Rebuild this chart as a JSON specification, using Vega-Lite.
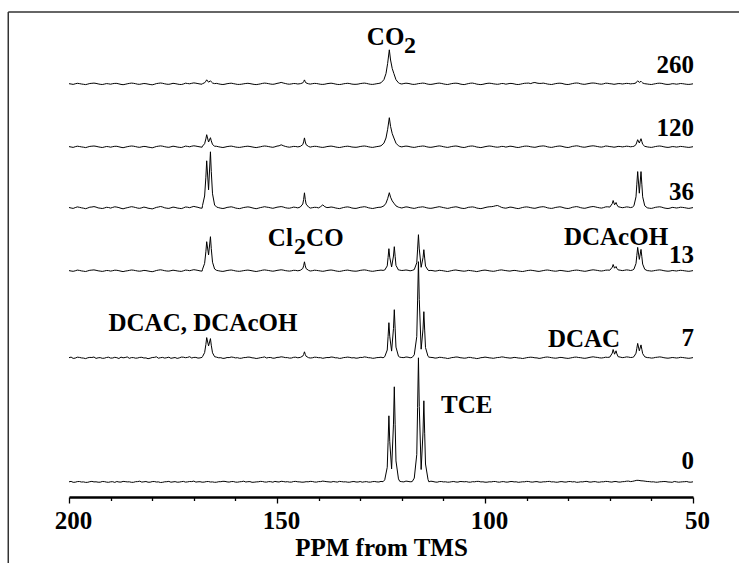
{
"$schema": "https://vega.github.io/schema/vega-lite/v6.json",
"width": 624, "height": 485,
"autosize": {"type": "none"},
"padding": {"left": 69, "top": 12, "right": 46, "bottom": 66},
"background": "white",
"config": {"view": {"stroke": null}, "font": "Liberation Serif"},
"datasets": {
"frame": [{"x1": 214.6, "x2": 20, "y1": 485, "y2": 485}, {"x1": 214.6, "x2": 214.6, "y1": 485, "y2": -100}],
"numbers": [{"label": "260", "x": 50, "y": 424}, {"label": "120", "x": 50, "y": 361}, {"label": "36", "x": 50, "y": 297}, {"label": "13", "x": 50, "y": 234}, {"label": "7", "x": 50, "y": 151}, {"label": "0", "x": 50, "y": 28}],
"centered": [{"label": "DCAC, DCAcOH", "x": 167.8, "y": 166}, {"label": "DCAC", "x": 76.2, "y": 150}, {"label": "DCAcOH", "x": 68.5, "y": 252}, {"label": "TCE", "x": 104.4, "y": 84}],
"leftmain": [{"label": "CO", "x": 128.4, "y": 452}, {"label": "Cl", "x": 152.2, "y": 251}, {"label": "CO", "x": 143.0, "y": 251}],
"subs": [{"label": "2", "x": 119.5, "y": 444}, {"label": "2", "x": 145.9, "y": 243}],
"spectra": [
{"s":"0","x":200,"y":15.2},{"s":"0","x":199,"y":14.7},{"s":"0","x":198,"y":15.4},{"s":"0","x":197,"y":15.0},{"s":"0","x":196,"y":14.6},{"s":"0","x":195,"y":15.3},{"s":"0","x":194,"y":15.1},{"s":"0","x":193,"y":14.8},{"s":"0","x":192,"y":15.5},{"s":"0","x":191,"y":14.9},{"s":"0","x":190,"y":15.2},{"s":"0","x":189,"y":14.6},{"s":"0","x":188,"y":15.0},{"s":"0","x":187,"y":15.6},{"s":"0","x":186,"y":15.1},{"s":"0","x":185,"y":14.7},{"s":"0","x":184,"y":15.3},{"s":"0","x":183,"y":15.8},{"s":"0","x":182,"y":15.2},{"s":"0","x":181,"y":14.8},{"s":"0","x":180,"y":15.4},{"s":"0","x":179,"y":15.0},{"s":"0","x":178,"y":14.5},{"s":"0","x":177,"y":15.2},{"s":"0","x":176,"y":15.6},{"s":"0","x":175,"y":15.1},{"s":"0","x":174,"y":14.8},{"s":"0","x":173,"y":15.3},{"s":"0","x":172,"y":14.9},{"s":"0","x":171,"y":15.5},{"s":"0","x":170,"y":15.9},{"s":"0","x":169,"y":15.2},{"s":"0","x":168,"y":14.8},{"s":"0","x":167,"y":15.4},{"s":"0","x":166,"y":15.0},{"s":"0","x":165,"y":14.7},{"s":"0","x":164,"y":15.3},{"s":"0","x":163,"y":15.7},{"s":"0","x":162,"y":15.1},{"s":"0","x":161,"y":15.4},{"s":"0","x":160,"y":14.9},{"s":"0","x":159,"y":15.2},{"s":"0","x":158,"y":15.8},{"s":"0","x":157,"y":15.3},{"s":"0","x":156,"y":14.7},{"s":"0","x":155,"y":15.1},{"s":"0","x":154,"y":15.6},{"s":"0","x":153,"y":15.0},{"s":"0","x":152,"y":15.4},{"s":"0","x":151,"y":14.8},{"s":"0","x":150,"y":15.2},{"s":"0","x":149,"y":15.7},{"s":"0","x":148,"y":15.1},{"s":"0","x":147,"y":14.9},{"s":"0","x":146,"y":15.5},{"s":"0","x":145,"y":15.2},{"s":"0","x":144,"y":14.8},{"s":"0","x":143,"y":15.3},{"s":"0","x":142,"y":15.6},{"s":"0","x":141,"y":15.0},{"s":"0","x":140,"y":15.4},{"s":"0","x":139,"y":15.9},{"s":"0","x":138,"y":15.3},{"s":"0","x":137,"y":14.9},{"s":"0","x":136,"y":15.2},{"s":"0","x":135,"y":15.6},{"s":"0","x":134,"y":15.1},{"s":"0","x":133,"y":14.8},{"s":"0","x":132,"y":15.3},{"s":"0","x":131,"y":15.0},{"s":"0","x":130,"y":15.5},{"s":"0","x":129,"y":15.2},{"s":"0","x":128,"y":14.9},{"s":"0","x":127,"y":15.4},{"s":"0","x":126,"y":15.1},{"s":"0","x":125,"y":15.6},
{"s":"0","x":124.1,"y":17.2},{"s":"0","x":123.5,"y":29.7},{"s":"0","x":123.3,"y":54.8},{"s":"0","x":123.1,"y":81.2},{"s":"0","x":122.9,"y":55.7},{"s":"0","x":122.45,"y":28.1},{"s":"0","x":122.0,"y":72.9},{"s":"0","x":121.8,"y":110.2},{"s":"0","x":121.6,"y":72.2},{"s":"0","x":121.4,"y":36.1},{"s":"0","x":120.8,"y":18.1},
{"s":"0","x":120,"y":15.3},{"s":"0","x":119,"y":15.9},{"s":"0","x":118,"y":15.2},
{"s":"0","x":117.0,"y":18.9},{"s":"0","x":116.4,"y":42.5},{"s":"0","x":116.2,"y":89.6},{"s":"0","x":116.0,"y":139.2},{"s":"0","x":115.8,"y":90.4},{"s":"0","x":115.35,"y":27.5},{"s":"0","x":114.9,"y":65.0},{"s":"0","x":114.7,"y":96.2},{"s":"0","x":114.5,"y":63.8},{"s":"0","x":114.3,"y":33.0},{"s":"0","x":113.7,"y":17.6},
{"s":"0","x":113,"y":15.8},{"s":"0","x":112,"y":15.0},{"s":"0","x":111,"y":15.4},{"s":"0","x":110,"y":15.1},{"s":"0","x":109,"y":14.8},{"s":"0","x":108,"y":15.3},{"s":"0","x":107,"y":15.0},{"s":"0","x":106,"y":15.5},{"s":"0","x":105,"y":15.2},{"s":"0","x":104,"y":14.9},{"s":"0","x":103,"y":15.3},{"s":"0","x":102,"y":15.6},{"s":"0","x":101,"y":15.1},{"s":"0","x":100,"y":14.8},{"s":"0","x":99,"y":15.2},{"s":"0","x":98,"y":15.5},{"s":"0","x":97,"y":15.0},{"s":"0","x":96,"y":15.3},{"s":"0","x":95,"y":14.9},{"s":"0","x":94,"y":15.4},{"s":"0","x":93,"y":15.1},{"s":"0","x":92,"y":14.7},{"s":"0","x":91,"y":15.2},{"s":"0","x":90,"y":15.6},{"s":"0","x":89,"y":15.0},{"s":"0","x":88,"y":15.3},{"s":"0","x":87,"y":14.9},{"s":"0","x":86,"y":15.2},{"s":"0","x":85,"y":15.5},{"s":"0","x":84,"y":15.1},{"s":"0","x":83,"y":14.8},{"s":"0","x":82,"y":15.3},{"s":"0","x":81,"y":15.0},{"s":"0","x":80,"y":15.4},{"s":"0","x":79,"y":15.1},{"s":"0","x":78,"y":14.7},{"s":"0","x":77,"y":15.2},{"s":"0","x":76,"y":15.5},{"s":"0","x":75,"y":15.0},{"s":"0","x":74,"y":15.3},{"s":"0","x":73,"y":14.9},{"s":"0","x":72,"y":15.2},{"s":"0","x":71,"y":15.6},{"s":"0","x":70,"y":15.1},{"s":"0","x":69,"y":15.4},{"s":"0","x":68,"y":15.0},{"s":"0","x":67,"y":15.3},{"s":"0","x":66,"y":15.8},{"s":"0","x":65,"y":15.4},{"s":"0","x":64,"y":16.2},{"s":"0","x":63,"y":16.6},{"s":"0","x":62,"y":16.1},{"s":"0","x":61,"y":15.5},{"s":"0","x":60,"y":15.1},{"s":"0","x":59,"y":14.8},{"s":"0","x":58,"y":15.2},{"s":"0","x":57,"y":15.5},{"s":"0","x":56,"y":15.0},{"s":"0","x":55,"y":14.7},{"s":"0","x":54,"y":15.2},{"s":"0","x":53,"y":15.0},{"s":"0","x":52,"y":15.3},{"s":"0","x":51,"y":14.9},{"s":"0","x":50,"y":15.2},
{"s":"0","x":199.5,"y":15.6},{"s":"0","x":198.5,"y":14.8},{"s":"0","x":197.5,"y":15.5},{"s":"0","x":196.5,"y":15.1},{"s":"0","x":195.5,"y":14.7},{"s":"0","x":194.5,"y":15.6},{"s":"0","x":193.5,"y":15.2},{"s":"0","x":192.5,"y":14.8},{"s":"0","x":191.5,"y":15.4},{"s":"0","x":190.5,"y":14.7},{"s":"0","x":189.5,"y":15.3},{"s":"0","x":188.5,"y":15.5},{"s":"0","x":187.5,"y":14.9},{"s":"0","x":186.5,"y":15.4},{"s":"0","x":185.5,"y":15.2},{"s":"0","x":184.5,"y":14.7},{"s":"0","x":183.5,"y":15.4},{"s":"0","x":182.5,"y":14.9},{"s":"0","x":181.5,"y":15.5},{"s":"0","x":180.5,"y":14.8},{"s":"0","x":179.5,"y":15.5},{"s":"0","x":178.5,"y":15.1},{"s":"0","x":177.5,"y":14.7},{"s":"0","x":176.5,"y":15.3},{"s":"0","x":175.5,"y":14.8},{"s":"0","x":174.5,"y":15.4},{"s":"0","x":173.5,"y":14.9},{"s":"0","x":172.5,"y":15.6},{"s":"0","x":171.5,"y":15.1},{"s":"0","x":170.5,"y":15.4},{"s":"0","x":169.5,"y":14.9},{"s":"0","x":168.5,"y":15.3},{"s":"0","x":167.5,"y":14.9},{"s":"0","x":166.5,"y":15.5},{"s":"0","x":165.5,"y":15.1},{"s":"0","x":164.5,"y":14.8},{"s":"0","x":163.5,"y":15.3},{"s":"0","x":162.5,"y":15.6},{"s":"0","x":161.5,"y":14.9},{"s":"0","x":160.5,"y":15.5},{"s":"0","x":159.5,"y":14.8},{"s":"0","x":158.5,"y":15.4},{"s":"0","x":157.5,"y":15.0},{"s":"0","x":156.5,"y":15.4},{"s":"0","x":155.5,"y":14.8},{"s":"0","x":154.5,"y":15.2},{"s":"0","x":153.5,"y":15.5},{"s":"0","x":152.5,"y":14.9},{"s":"0","x":151.5,"y":15.3},{"s":"0","x":150.5,"y":15.6},{"s":"0","x":149.5,"y":15.0},{"s":"0","x":148.5,"y":15.5},{"s":"0","x":147.5,"y":15.3},{"s":"0","x":146.5,"y":14.9},{"s":"0","x":145.5,"y":15.6},{"s":"0","x":144.5,"y":15.1},{"s":"0","x":143.5,"y":14.9},{"s":"0","x":142.5,"y":15.2},{"s":"0","x":141.5,"y":15.5},{"s":"0","x":140.5,"y":14.9},{"s":"0","x":139.5,"y":15.4},{"s":"0","x":138.5,"y":15.6},{"s":"0","x":137.5,"y":15.1},{"s":"0","x":136.5,"y":15.5},{"s":"0","x":135.5,"y":14.9},{"s":"0","x":134.5,"y":15.4},{"s":"0","x":133.5,"y":15.2},{"s":"0","x":132.5,"y":14.8},{"s":"0","x":131.5,"y":15.5},{"s":"0","x":130.5,"y":15.0},{"s":"0","x":129.5,"y":14.8},{"s":"0","x":128.5,"y":15.4},{"s":"0","x":127.5,"y":14.9},{"s":"0","x":126.5,"y":15.5},{"s":"0","x":125.5,"y":15.0},{"s":"0","x":124.5,"y":15.3},{"s":"0","x":120.5,"y":15.7},{"s":"0","x":119.5,"y":15.1},{"s":"0","x":118.5,"y":15.6},{"s":"0","x":117.5,"y":15.4},{"s":"0","x":113.5,"y":15.2},{"s":"0","x":112.5,"y":15.5},{"s":"0","x":111.5,"y":14.8},{"s":"0","x":110.5,"y":15.5},{"s":"0","x":109.5,"y":15.2},{"s":"0","x":108.5,"y":14.9},{"s":"0","x":107.5,"y":15.5},{"s":"0","x":106.5,"y":14.9},{"s":"0","x":105.5,"y":15.4},{"s":"0","x":104.5,"y":15.4},{"s":"0","x":103.5,"y":14.8},{"s":"0","x":102.5,"y":15.2},{"s":"0","x":101.5,"y":15.6},{"s":"0","x":100.5,"y":15.2},{"s":"0","x":99.5,"y":14.8},{"s":"0","x":98.5,"y":15.1},{"s":"0","x":97.5,"y":15.5},{"s":"0","x":96.5,"y":14.8},{"s":"0","x":95.5,"y":15.4},{"s":"0","x":94.5,"y":14.9},{"s":"0","x":93.5,"y":15.5},{"s":"0","x":92.5,"y":15.2},{"s":"0","x":91.5,"y":14.9},{"s":"0","x":90.5,"y":15.2},{"s":"0","x":89.5,"y":15.5},{"s":"0","x":88.5,"y":14.9},{"s":"0","x":87.5,"y":15.4},{"s":"0","x":86.5,"y":14.8},{"s":"0","x":85.5,"y":15.2},{"s":"0","x":84.5,"y":15.6},{"s":"0","x":83.5,"y":15.2},{"s":"0","x":82.5,"y":14.8},{"s":"0","x":81.5,"y":15.4},{"s":"0","x":80.5,"y":14.9},{"s":"0","x":79.5,"y":15.5},{"s":"0","x":78.5,"y":15.3},{"s":"0","x":77.5,"y":14.8},{"s":"0","x":76.5,"y":15.1},{"s":"0","x":75.5,"y":15.6},{"s":"0","x":74.5,"y":14.9},{"s":"0","x":73.5,"y":15.4},{"s":"0","x":72.5,"y":14.8},{"s":"0","x":71.5,"y":15.2},{"s":"0","x":70.5,"y":15.5},{"s":"0","x":69.5,"y":14.9},{"s":"0","x":68.5,"y":15.5},{"s":"0","x":67.5,"y":14.9},{"s":"0","x":66.5,"y":15.4},{"s":"0","x":65.5,"y":15.9},{"s":"0","x":64.5,"y":15.7},{"s":"0","x":63.5,"y":16.7},{"s":"0","x":62.5,"y":16.2},{"s":"0","x":61.5,"y":15.8},{"s":"0","x":60.5,"y":15.4},{"s":"0","x":59.5,"y":15.2},{"s":"0","x":58.5,"y":14.8},{"s":"0","x":57.5,"y":15.3},{"s":"0","x":56.5,"y":15.4},{"s":"0","x":55.5,"y":14.9},{"s":"0","x":54.5,"y":15.5},{"s":"0","x":53.5,"y":14.8},{"s":"0","x":52.5,"y":15.2},{"s":"0","x":51.5,"y":15.5},{"s":"0","x":50.5,"y":14.8},

{"s":"7","x":200,"y":139.3},{"s":"7","x":199,"y":138.6},{"s":"7","x":198,"y":139.8},{"s":"7","x":197,"y":139.1},{"s":"7","x":196,"y":138.4},{"s":"7","x":195,"y":139.6},{"s":"7","x":194,"y":140.0},{"s":"7","x":193,"y":139.2},{"s":"7","x":192,"y":138.7},{"s":"7","x":191,"y":139.5},{"s":"7","x":190,"y":138.9},{"s":"7","x":189,"y":139.7},{"s":"7","x":188,"y":138.5},{"s":"7","x":187,"y":139.2},{"s":"7","x":186,"y":140.1},{"s":"7","x":185,"y":139.4},{"s":"7","x":184,"y":138.8},{"s":"7","x":183,"y":139.6},{"s":"7","x":182,"y":139.0},{"s":"7","x":181,"y":138.3},{"s":"7","x":180,"y":139.5},{"s":"7","x":179,"y":140.2},{"s":"7","x":178,"y":139.3},{"s":"7","x":177,"y":138.9},{"s":"7","x":176,"y":139.8},{"s":"7","x":175,"y":139.1},{"s":"7","x":174,"y":138.6},{"s":"7","x":173,"y":139.9},{"s":"7","x":172,"y":139.3},{"s":"7","x":171,"y":140.3},{"s":"7","x":170,"y":139.6},{"s":"7","x":169,"y":138.9},{"s":"7","x":168,"y":139.7},
{"s":"7","x":167.9,"y":140.4},{"s":"7","x":167.4,"y":144.4},{"s":"7","x":167.1,"y":152.4},{"s":"7","x":166.9,"y":159.4},{"s":"7","x":166.45,"y":151.1},{"s":"7","x":166.0,"y":158.4},{"s":"7","x":165.8,"y":151.8},{"s":"7","x":165.5,"y":144.2},{"s":"7","x":165.0,"y":140.3},
{"s":"7","x":164,"y":139.2},{"s":"7","x":163,"y":138.6},{"s":"7","x":162,"y":139.5},{"s":"7","x":161,"y":140.0},{"s":"7","x":160,"y":139.1},{"s":"7","x":159,"y":138.7},{"s":"7","x":158,"y":139.4},{"s":"7","x":157,"y":139.9},{"s":"7","x":156,"y":139.2},{"s":"7","x":155,"y":138.5},{"s":"7","x":154,"y":139.3},{"s":"7","x":153,"y":140.1},{"s":"7","x":152,"y":139.5},{"s":"7","x":151,"y":138.8},{"s":"7","x":150,"y":139.6},{"s":"7","x":149,"y":140.2},{"s":"7","x":148,"y":139.4},{"s":"7","x":147,"y":138.9},{"s":"7","x":146,"y":139.7},{"s":"7","x":145,"y":139.2},
{"s":"7","x":144.4,"y":139.6},{"s":"7","x":143.8,"y":140.9},{"s":"7","x":143.6,"y":142.5},{"s":"7","x":143.4,"y":145.2},{"s":"7","x":143.2,"y":142.6},{"s":"7","x":143.0,"y":140.7},{"s":"7","x":142.4,"y":139.3},
{"s":"7","x":142,"y":139.0},{"s":"7","x":141,"y":139.8},{"s":"7","x":140,"y":139.3},{"s":"7","x":139,"y":138.7},{"s":"7","x":138,"y":139.5},{"s":"7","x":137,"y":140.0},{"s":"7","x":136,"y":139.2},{"s":"7","x":135,"y":138.6},{"s":"7","x":134,"y":139.4},{"s":"7","x":133,"y":139.9},{"s":"7","x":132,"y":139.1},{"s":"7","x":131,"y":138.8},{"s":"7","x":130,"y":139.6},{"s":"7","x":129,"y":140.1},{"s":"7","x":128,"y":139.3},{"s":"7","x":127,"y":138.7},{"s":"7","x":126,"y":139.4},{"s":"7","x":125,"y":139.8},
{"s":"7","x":124.1,"y":140.3},{"s":"7","x":123.5,"y":147.0},{"s":"7","x":123.3,"y":160.3},{"s":"7","x":123.1,"y":174.3},{"s":"7","x":122.9,"y":160.8},{"s":"7","x":122.45,"y":145.9},{"s":"7","x":122.0,"y":168.4},{"s":"7","x":121.8,"y":187.3},{"s":"7","x":121.6,"y":168.1},{"s":"7","x":121.4,"y":149.9},{"s":"7","x":120.8,"y":140.7},
{"s":"7","x":120,"y":139.5},{"s":"7","x":119,"y":140.0},{"s":"7","x":118,"y":139.2},
{"s":"7","x":117.0,"y":142.2},{"s":"7","x":116.4,"y":160.4},{"s":"7","x":116.2,"y":196.9},{"s":"7","x":116.0,"y":235.3},{"s":"7","x":115.8,"y":197.4},{"s":"7","x":115.35,"y":147.8},{"s":"7","x":114.9,"y":167.9},{"s":"7","x":114.7,"y":185.3},{"s":"7","x":114.5,"y":166.9},{"s":"7","x":114.3,"y":149.4},{"s":"7","x":113.7,"y":140.7},
{"s":"7","x":113,"y":139.6},{"s":"7","x":112,"y":138.9},{"s":"7","x":111,"y":139.7},{"s":"7","x":110,"y":139.2},{"s":"7","x":109,"y":138.5},{"s":"7","x":108,"y":139.4},{"s":"7","x":107,"y":140.0},{"s":"7","x":106,"y":139.3},{"s":"7","x":105,"y":138.8},{"s":"7","x":104,"y":139.6},{"s":"7","x":103,"y":139.1},{"s":"7","x":102,"y":138.4},{"s":"7","x":101,"y":139.3},{"s":"7","x":100,"y":139.9},{"s":"7","x":99,"y":139.2},{"s":"7","x":98,"y":138.7},{"s":"7","x":97,"y":139.5},{"s":"7","x":96,"y":140.1},{"s":"7","x":95,"y":139.4},{"s":"7","x":94,"y":138.9},{"s":"7","x":93,"y":139.6},{"s":"7","x":92,"y":139.0},{"s":"7","x":91,"y":138.5},{"s":"7","x":90,"y":139.3},{"s":"7","x":89,"y":139.8},{"s":"7","x":88,"y":139.2},{"s":"7","x":87,"y":138.6},{"s":"7","x":86,"y":139.4},{"s":"7","x":85,"y":140.0},{"s":"7","x":84,"y":139.3},{"s":"7","x":83,"y":138.8},{"s":"7","x":82,"y":139.6},{"s":"7","x":81,"y":139.1},{"s":"7","x":80,"y":138.6},{"s":"7","x":79,"y":139.4},{"s":"7","x":78,"y":139.9},{"s":"7","x":77,"y":139.3},{"s":"7","x":76,"y":138.7},{"s":"7","x":75,"y":139.5},{"s":"7","x":74,"y":140.2},{"s":"7","x":73,"y":139.6},{"s":"7","x":72,"y":139.0},{"s":"7","x":71,"y":139.8},
{"s":"7","x":70.0,"y":139.9},{"s":"7","x":69.4,"y":143.9},{"s":"7","x":69.2,"y":147.5},{"s":"7","x":68.85,"y":142.8},{"s":"7","x":68.5,"y":146.2},{"s":"7","x":68.3,"y":143.2},{"s":"7","x":68.0,"y":140.3},
{"s":"7","x":67,"y":139.4},{"s":"7","x":66,"y":140.1},{"s":"7","x":65,"y":139.5},
{"s":"7","x":64.2,"y":140.3},{"s":"7","x":63.7,"y":143.8},{"s":"7","x":63.5,"y":148.7},{"s":"7","x":63.3,"y":153.6},{"s":"7","x":62.9,"y":146.2},{"s":"7","x":62.5,"y":152.1},{"s":"7","x":62.3,"y":147.7},{"s":"7","x":62.1,"y":143.4},{"s":"7","x":61.6,"y":140.2},
{"s":"7","x":61,"y":139.4},{"s":"7","x":60,"y":138.9},{"s":"7","x":59,"y":139.6},{"s":"7","x":58,"y":140.1},{"s":"7","x":57,"y":139.3},{"s":"7","x":56,"y":138.8},{"s":"7","x":55,"y":139.5},{"s":"7","x":54,"y":139.0},{"s":"7","x":53,"y":139.7},{"s":"7","x":52,"y":139.2},{"s":"7","x":51,"y":138.7},{"s":"7","x":50,"y":139.4},
{"s":"7","x":199.5,"y":139.9},{"s":"7","x":198.5,"y":138.9},{"s":"7","x":197.5,"y":139.6},{"s":"7","x":196.5,"y":138.9},{"s":"7","x":195.5,"y":139.2},{"s":"7","x":194.5,"y":139.5},{"s":"7","x":193.5,"y":138.6},{"s":"7","x":192.5,"y":139.4},{"s":"7","x":191.5,"y":138.8},{"s":"7","x":190.5,"y":139.8},{"s":"7","x":189.5,"y":139.0},{"s":"7","x":188.5,"y":139.3},{"s":"7","x":187.5,"y":139.9},{"s":"7","x":186.5,"y":139.5},{"s":"7","x":185.5,"y":138.7},{"s":"7","x":184.5,"y":139.4},{"s":"7","x":183.5,"y":139.0},{"s":"7","x":182.5,"y":139.7},{"s":"7","x":181.5,"y":139.1},{"s":"7","x":180.5,"y":138.8},{"s":"7","x":179.5,"y":139.6},{"s":"7","x":178.5,"y":138.8},{"s":"7","x":177.5,"y":139.6},{"s":"7","x":176.5,"y":139.3},{"s":"7","x":175.5,"y":138.7},{"s":"7","x":174.5,"y":139.5},{"s":"7","x":173.5,"y":139.1},{"s":"7","x":172.5,"y":139.8},{"s":"7","x":171.5,"y":139.6},{"s":"7","x":170.5,"y":139.0},{"s":"7","x":169.5,"y":139.6},{"s":"7","x":168.5,"y":139.1},{"s":"7","x":164.5,"y":139.8},{"s":"7","x":163.5,"y":139.3},{"s":"7","x":162.5,"y":138.8},{"s":"7","x":161.5,"y":139.4},{"s":"7","x":160.5,"y":139.7},{"s":"7","x":159.5,"y":139.3},{"s":"7","x":158.5,"y":138.8},{"s":"7","x":157.5,"y":139.5},{"s":"7","x":156.5,"y":139.8},{"s":"7","x":155.5,"y":139.0},{"s":"7","x":154.5,"y":138.8},{"s":"7","x":153.5,"y":139.6},{"s":"7","x":152.5,"y":139.0},{"s":"7","x":151.5,"y":139.5},{"s":"7","x":150.5,"y":138.9},{"s":"7","x":149.5,"y":139.7},{"s":"7","x":148.5,"y":139.9},{"s":"7","x":147.5,"y":139.4},{"s":"7","x":146.5,"y":139.0},{"s":"7","x":145.5,"y":139.8},{"s":"7","x":141.5,"y":139.2},{"s":"7","x":140.5,"y":139.7},{"s":"7","x":139.5,"y":139.3},{"s":"7","x":138.5,"y":139.1},{"s":"7","x":137.5,"y":139.4},{"s":"7","x":136.5,"y":139.8},{"s":"7","x":135.5,"y":139.2},{"s":"7","x":134.5,"y":138.8},{"s":"7","x":133.5,"y":139.6},{"s":"7","x":132.5,"y":139.6},{"s":"7","x":131.5,"y":139.3},{"s":"7","x":130.5,"y":139.0},{"s":"7","x":129.5,"y":139.5},{"s":"7","x":128.5,"y":139.8},{"s":"7","x":127.5,"y":139.2},{"s":"7","x":126.5,"y":138.9},{"s":"7","x":125.5,"y":139.5},{"s":"7","x":124.5,"y":139.2},{"s":"7","x":120.5,"y":139.9},{"s":"7","x":119.5,"y":139.4},{"s":"7","x":118.5,"y":139.8},{"s":"7","x":117.5,"y":139.6},{"s":"7","x":113.5,"y":139.9},{"s":"7","x":112.5,"y":139.4},{"s":"7","x":111.5,"y":139.1},{"s":"7","x":110.5,"y":139.6},{"s":"7","x":109.5,"y":139.0},{"s":"7","x":108.5,"y":138.8},{"s":"7","x":107.5,"y":139.6},{"s":"7","x":106.5,"y":139.9},{"s":"7","x":105.5,"y":139.1},{"s":"7","x":104.5,"y":139.0},{"s":"7","x":103.5,"y":139.6},{"s":"7","x":102.5,"y":138.9},{"s":"7","x":101.5,"y":138.7},{"s":"7","x":100.5,"y":139.5},{"s":"7","x":99.5,"y":139.6},{"s":"7","x":98.5,"y":139.0},{"s":"7","x":97.5,"y":139.1},{"s":"7","x":96.5,"y":139.6},{"s":"7","x":95.5,"y":139.9},{"s":"7","x":94.5,"y":139.2},{"s":"7","x":93.5,"y":139.1},{"s":"7","x":92.5,"y":139.4},{"s":"7","x":91.5,"y":138.9},{"s":"7","x":90.5,"y":138.8},{"s":"7","x":89.5,"y":139.6},{"s":"7","x":88.5,"y":139.6},{"s":"7","x":87.5,"y":139.1},{"s":"7","x":86.5,"y":138.9},{"s":"7","x":85.5,"y":139.8},{"s":"7","x":84.5,"y":139.7},{"s":"7","x":83.5,"y":139.0},{"s":"7","x":82.5,"y":139.1},{"s":"7","x":81.5,"y":139.5},{"s":"7","x":80.5,"y":138.8},{"s":"7","x":79.5,"y":139.0},{"s":"7","x":78.5,"y":139.8},{"s":"7","x":77.5,"y":139.5},{"s":"7","x":76.5,"y":138.9},{"s":"7","x":75.5,"y":139.0},{"s":"7","x":74.5,"y":139.9},{"s":"7","x":73.5,"y":139.8},{"s":"7","x":72.5,"y":139.2},{"s":"7","x":71.5,"y":139.3},{"s":"7","x":70.5,"y":139.6},{"s":"7","x":67.5,"y":139.9},{"s":"7","x":66.5,"y":139.6},{"s":"7","x":65.5,"y":139.9},{"s":"7","x":64.5,"y":139.7},{"s":"7","x":60.5,"y":139.3},{"s":"7","x":59.5,"y":139.1},{"s":"7","x":58.5,"y":139.8},{"s":"7","x":57.5,"y":139.8},{"s":"7","x":56.5,"y":139.0},{"s":"7","x":55.5,"y":139.1},{"s":"7","x":54.5,"y":139.3},{"s":"7","x":53.5,"y":139.2},{"s":"7","x":52.5,"y":139.5},{"s":"7","x":51.5,"y":138.9},{"s":"7","x":50.5,"y":139.0},

{"s":"13","x":200,"y":226.4},{"s":"13","x":199,"y":225.7},{"s":"13","x":198,"y":226.9},{"s":"13","x":197,"y":226.1},{"s":"13","x":196,"y":225.5},{"s":"13","x":195,"y":226.7},{"s":"13","x":194,"y":227.1},{"s":"13","x":193,"y":226.2},{"s":"13","x":192,"y":225.6},{"s":"13","x":191,"y":226.5},{"s":"13","x":190,"y":225.9},{"s":"13","x":189,"y":226.8},{"s":"13","x":188,"y":226.3},{"s":"13","x":187,"y":225.4},{"s":"13","x":186,"y":226.2},{"s":"13","x":185,"y":227.0},{"s":"13","x":184,"y":226.4},{"s":"13","x":183,"y":225.8},{"s":"13","x":182,"y":226.6},{"s":"13","x":181,"y":226.0},{"s":"13","x":180,"y":225.3},{"s":"13","x":179,"y":226.5},{"s":"13","x":178,"y":227.2},{"s":"13","x":177,"y":226.3},{"s":"13","x":176,"y":225.9},{"s":"13","x":175,"y":226.8},{"s":"13","x":174,"y":226.1},{"s":"13","x":173,"y":225.6},{"s":"13","x":172,"y":226.9},{"s":"13","x":171,"y":226.3},{"s":"13","x":170,"y":227.3},{"s":"13","x":169,"y":226.6},{"s":"13","x":168,"y":225.9},
{"s":"13","x":167.9,"y":227.8},{"s":"13","x":167.4,"y":233.6},{"s":"13","x":167.1,"y":245.2},{"s":"13","x":166.9,"y":255.3},{"s":"13","x":166.45,"y":242.1},{"s":"13","x":166.0,"y":260.3},{"s":"13","x":165.8,"y":248.4},{"s":"13","x":165.5,"y":234.8},{"s":"13","x":165.0,"y":228.0},
{"s":"13","x":164,"y":226.2},{"s":"13","x":163,"y":225.6},{"s":"13","x":162,"y":226.5},{"s":"13","x":161,"y":227.0},{"s":"13","x":160,"y":226.1},{"s":"13","x":159,"y":225.7},{"s":"13","x":158,"y":226.4},{"s":"13","x":157,"y":226.9},{"s":"13","x":156,"y":226.2},{"s":"13","x":155,"y":225.5},{"s":"13","x":154,"y":226.3},{"s":"13","x":153,"y":227.1},{"s":"13","x":152,"y":226.5},{"s":"13","x":151,"y":225.8},{"s":"13","x":150,"y":226.6},{"s":"13","x":149,"y":227.2},{"s":"13","x":148,"y":226.4},{"s":"13","x":147,"y":225.9},{"s":"13","x":146,"y":226.7},{"s":"13","x":145,"y":226.2},
{"s":"13","x":144.4,"y":226.7},{"s":"13","x":143.8,"y":228.5},{"s":"13","x":143.6,"y":231.2},{"s":"13","x":143.4,"y":235.2},{"s":"13","x":143.2,"y":231.1},{"s":"13","x":143.0,"y":228.4},{"s":"13","x":142.4,"y":226.6},
{"s":"13","x":142,"y":226.0},{"s":"13","x":141,"y":226.8},{"s":"13","x":140,"y":226.3},{"s":"13","x":139,"y":225.7},{"s":"13","x":138,"y":226.5},{"s":"13","x":137,"y":227.0},{"s":"13","x":136,"y":226.2},{"s":"13","x":135,"y":225.6},{"s":"13","x":134,"y":226.4},{"s":"13","x":133,"y":226.9},{"s":"13","x":132,"y":226.1},{"s":"13","x":131,"y":225.8},{"s":"13","x":130,"y":226.6},{"s":"13","x":129,"y":227.1},{"s":"13","x":128,"y":226.3},{"s":"13","x":127,"y":225.7},{"s":"13","x":126,"y":226.4},{"s":"13","x":125,"y":226.9},
{"s":"13","x":124.1,"y":227.0},{"s":"13","x":123.5,"y":231.1},{"s":"13","x":123.3,"y":239.5},{"s":"13","x":123.1,"y":248.3},{"s":"13","x":122.9,"y":239.8},{"s":"13","x":122.45,"y":230.0},{"s":"13","x":122.0,"y":241.0},{"s":"13","x":121.8,"y":250.3},{"s":"13","x":121.6,"y":240.7},{"s":"13","x":121.4,"y":231.6},{"s":"13","x":120.8,"y":227.0},
{"s":"13","x":120,"y":226.5},{"s":"13","x":119,"y":227.0},{"s":"13","x":118,"y":226.2},
{"s":"13","x":117.0,"y":227.4},{"s":"13","x":116.4,"y":234.2},{"s":"13","x":116.2,"y":247.9},{"s":"13","x":116.0,"y":262.3},{"s":"13","x":115.8,"y":248.1},{"s":"13","x":115.35,"y":229.7},{"s":"13","x":114.9,"y":239.3},{"s":"13","x":114.7,"y":247.3},{"s":"13","x":114.5,"y":238.9},{"s":"13","x":114.3,"y":230.9},{"s":"13","x":113.7,"y":226.9},
{"s":"13","x":113,"y":226.6},{"s":"13","x":112,"y":225.9},{"s":"13","x":111,"y":226.7},{"s":"13","x":110,"y":226.2},{"s":"13","x":109,"y":225.5},{"s":"13","x":108,"y":226.4},{"s":"13","x":107,"y":227.0},{"s":"13","x":106,"y":226.3},{"s":"13","x":105,"y":225.8},{"s":"13","x":104,"y":226.6},{"s":"13","x":103,"y":226.1},{"s":"13","x":102,"y":225.4},{"s":"13","x":101,"y":226.3},{"s":"13","x":100,"y":226.9},{"s":"13","x":99,"y":226.2},{"s":"13","x":98,"y":225.7},{"s":"13","x":97,"y":226.5},{"s":"13","x":96,"y":227.1},{"s":"13","x":95,"y":226.4},{"s":"13","x":94,"y":225.9},{"s":"13","x":93,"y":226.6},{"s":"13","x":92,"y":226.0},{"s":"13","x":91,"y":225.5},{"s":"13","x":90,"y":226.3},{"s":"13","x":89,"y":226.8},{"s":"13","x":88,"y":226.2},{"s":"13","x":87,"y":225.6},{"s":"13","x":86,"y":226.4},{"s":"13","x":85,"y":227.0},{"s":"13","x":84,"y":226.3},{"s":"13","x":83,"y":225.8},{"s":"13","x":82,"y":226.6},{"s":"13","x":81,"y":226.1},{"s":"13","x":80,"y":225.6},{"s":"13","x":79,"y":226.4},{"s":"13","x":78,"y":226.9},{"s":"13","x":77,"y":226.3},{"s":"13","x":76,"y":225.7},{"s":"13","x":75,"y":226.5},{"s":"13","x":74,"y":227.2},{"s":"13","x":73,"y":226.6},{"s":"13","x":72,"y":226.0},{"s":"13","x":71,"y":226.8},
{"s":"13","x":70.0,"y":226.8},{"s":"13","x":69.4,"y":229.8},{"s":"13","x":69.2,"y":232.5},{"s":"13","x":68.85,"y":228.8},{"s":"13","x":68.5,"y":230.5},{"s":"13","x":68.3,"y":228.7},{"s":"13","x":68.0,"y":227.1},
{"s":"13","x":67,"y":226.4},{"s":"13","x":66,"y":227.1},{"s":"13","x":65,"y":226.5},
{"s":"13","x":64.2,"y":227.8},{"s":"13","x":63.7,"y":233.5},{"s":"13","x":63.5,"y":241.6},{"s":"13","x":63.3,"y":249.6},{"s":"13","x":62.9,"y":237.6},{"s":"13","x":62.5,"y":247.6},{"s":"13","x":62.3,"y":240.3},{"s":"13","x":62.1,"y":232.9},{"s":"13","x":61.6,"y":227.7},
{"s":"13","x":61,"y":226.4},{"s":"13","x":60,"y":225.9},{"s":"13","x":59,"y":226.6},{"s":"13","x":58,"y":227.1},{"s":"13","x":57,"y":226.3},{"s":"13","x":56,"y":225.8},{"s":"13","x":55,"y":226.5},{"s":"13","x":54,"y":226.0},{"s":"13","x":53,"y":226.7},{"s":"13","x":52,"y":226.2},{"s":"13","x":51,"y":225.7},{"s":"13","x":50,"y":226.4},
{"s":"13","x":199.5,"y":226.0},{"s":"13","x":198.5,"y":226.2},{"s":"13","x":197.5,"y":226.6},{"s":"13","x":196.5,"y":225.8},{"s":"13","x":195.5,"y":226.1},{"s":"13","x":194.5,"y":226.9},{"s":"13","x":193.5,"y":226.7},{"s":"13","x":192.5,"y":225.9},{"s":"13","x":191.5,"y":226.0},{"s":"13","x":190.5,"y":226.4},{"s":"13","x":189.5,"y":226.3},{"s":"13","x":188.5,"y":226.7},{"s":"13","x":187.5,"y":225.8},{"s":"13","x":186.5,"y":225.9},{"s":"13","x":185.5,"y":226.6},{"s":"13","x":184.5,"y":226.8},{"s":"13","x":183.5,"y":226.0},{"s":"13","x":182.5,"y":226.1},{"s":"13","x":181.5,"y":226.4},{"s":"13","x":180.5,"y":225.6},{"s":"13","x":179.5,"y":225.8},{"s":"13","x":178.5,"y":226.9},{"s":"13","x":177.5,"y":226.8},{"s":"13","x":176.5,"y":226.0},{"s":"13","x":175.5,"y":226.3},{"s":"13","x":174.5,"y":226.5},{"s":"13","x":173.5,"y":225.8},{"s":"13","x":172.5,"y":226.2},{"s":"13","x":171.5,"y":226.7},{"s":"13","x":170.5,"y":226.8},{"s":"13","x":169.5,"y":227.0},{"s":"13","x":168.5,"y":226.1},{"s":"13","x":164.5,"y":226.6},{"s":"13","x":163.5,"y":225.8},{"s":"13","x":162.5,"y":226.0},{"s":"13","x":161.5,"y":226.8},{"s":"13","x":160.5,"y":226.6},{"s":"13","x":159.5,"y":225.8},{"s":"13","x":158.5,"y":226.0},{"s":"13","x":157.5,"y":226.7},{"s":"13","x":156.5,"y":226.6},{"s":"13","x":155.5,"y":225.8},{"s":"13","x":154.5,"y":225.9},{"s":"13","x":153.5,"y":226.8},{"s":"13","x":152.5,"y":226.8},{"s":"13","x":151.5,"y":226.1},{"s":"13","x":150.5,"y":226.1},{"s":"13","x":149.5,"y":226.9},{"s":"13","x":148.5,"y":226.9},{"s":"13","x":147.5,"y":226.1},{"s":"13","x":146.5,"y":226.2},{"s":"13","x":145.5,"y":226.6},{"s":"13","x":141.5,"y":226.3},{"s":"13","x":140.5,"y":226.6},{"s":"13","x":139.5,"y":226.0},{"s":"13","x":138.5,"y":226.0},{"s":"13","x":137.5,"y":226.8},{"s":"13","x":136.5,"y":226.7},{"s":"13","x":135.5,"y":225.8},{"s":"13","x":134.5,"y":225.9},{"s":"13","x":133.5,"y":226.7},{"s":"13","x":132.5,"y":226.5},{"s":"13","x":131.5,"y":225.9},{"s":"13","x":130.5,"y":226.1},{"s":"13","x":129.5,"y":226.9},{"s":"13","x":128.5,"y":226.8},{"s":"13","x":127.5,"y":225.9},{"s":"13","x":126.5,"y":226.0},{"s":"13","x":125.5,"y":226.6},{"s":"13","x":124.5,"y":226.6},{"s":"13","x":120.5,"y":226.9},{"s":"13","x":119.5,"y":226.7},{"s":"13","x":118.5,"y":226.7},{"s":"13","x":117.5,"y":226.6},{"s":"13","x":113.5,"y":226.4},{"s":"13","x":112.5,"y":226.3},{"s":"13","x":111.5,"y":226.2},{"s":"13","x":110.5,"y":226.5},{"s":"13","x":109.5,"y":225.8},{"s":"13","x":108.5,"y":225.9},{"s":"13","x":107.5,"y":226.8},{"s":"13","x":106.5,"y":226.6},{"s":"13","x":105.5,"y":226.0},{"s":"13","x":104.5,"y":226.1},{"s":"13","x":103.5,"y":226.4},{"s":"13","x":102.5,"y":225.8},{"s":"13","x":101.5,"y":225.8},{"s":"13","x":100.5,"y":226.7},{"s":"13","x":99.5,"y":226.6},{"s":"13","x":98.5,"y":225.9},{"s":"13","x":97.5,"y":226.0},{"s":"13","x":96.5,"y":226.9},{"s":"13","x":95.5,"y":226.7},{"s":"13","x":94.5,"y":226.1},{"s":"13","x":93.5,"y":226.3},{"s":"13","x":92.5,"y":226.4},{"s":"13","x":91.5,"y":225.7},{"s":"13","x":90.5,"y":225.8},{"s":"13","x":89.5,"y":226.6},{"s":"13","x":88.5,"y":226.5},{"s":"13","x":87.5,"y":225.8},{"s":"13","x":86.5,"y":226.0},{"s":"13","x":85.5,"y":226.8},{"s":"13","x":84.5,"y":226.7},{"s":"13","x":83.5,"y":226.0},{"s":"13","x":82.5,"y":226.1},{"s":"13","x":81.5,"y":226.4},{"s":"13","x":80.5,"y":225.8},{"s":"13","x":79.5,"y":225.9},{"s":"13","x":78.5,"y":226.7},{"s":"13","x":77.5,"y":226.7},{"s":"13","x":76.5,"y":226.0},{"s":"13","x":75.5,"y":226.0},{"s":"13","x":74.5,"y":226.9},{"s":"13","x":73.5,"y":226.9},{"s":"13","x":72.5,"y":226.2},{"s":"13","x":71.5,"y":226.3},{"s":"13","x":70.5,"y":226.9},{"s":"13","x":67.5,"y":226.8},{"s":"13","x":66.5,"y":226.7},{"s":"13","x":65.5,"y":226.9},{"s":"13","x":64.5,"y":227.0},{"s":"13","x":60.5,"y":226.2},{"s":"13","x":59.5,"y":226.2},{"s":"13","x":58.5,"y":226.9},{"s":"13","x":57.5,"y":226.8},{"s":"13","x":56.5,"y":226.0},{"s":"13","x":55.5,"y":226.0},{"s":"13","x":54.5,"y":226.3},{"s":"13","x":53.5,"y":226.4},{"s":"13","x":52.5,"y":226.5},{"s":"13","x":51.5,"y":225.9},{"s":"13","x":50.5,"y":226.0},

{"s":"36","x":200,"y":289.5},{"s":"36","x":199,"y":288.6},{"s":"36","x":198,"y":290.1},{"s":"36","x":197,"y":289.2},{"s":"36","x":196,"y":288.3},{"s":"36","x":195,"y":289.8},{"s":"36","x":194,"y":290.4},{"s":"36","x":193,"y":289.1},{"s":"36","x":192,"y":288.5},{"s":"36","x":191,"y":289.7},{"s":"36","x":190,"y":288.9},{"s":"36","x":189,"y":290.2},{"s":"36","x":188,"y":289.4},{"s":"36","x":187,"y":288.2},{"s":"36","x":186,"y":289.3},{"s":"36","x":185,"y":290.3},{"s":"36","x":184,"y":289.5},{"s":"36","x":183,"y":288.7},{"s":"36","x":182,"y":289.9},{"s":"36","x":181,"y":288.8},{"s":"36","x":180,"y":288.1},{"s":"36","x":179,"y":289.6},{"s":"36","x":178,"y":290.5},{"s":"36","x":177,"y":289.2},{"s":"36","x":176,"y":288.6},{"s":"36","x":175,"y":289.9},{"s":"36","x":174,"y":289.0},{"s":"36","x":173,"y":288.4},{"s":"36","x":172,"y":290.0},{"s":"36","x":171,"y":289.3},{"s":"36","x":170,"y":290.6},{"s":"36","x":169,"y":289.7},{"s":"36","x":168,"y":288.8},
{"s":"36","x":167.9,"y":291.6},{"s":"36","x":167.4,"y":301.0},{"s":"36","x":167.1,"y":319.8},{"s":"36","x":166.9,"y":336.2},{"s":"36","x":166.45,"y":307.2},{"s":"36","x":166.0,"y":345.2},{"s":"36","x":165.8,"y":325.6},{"s":"36","x":165.5,"y":303.2},{"s":"36","x":165.0,"y":292.0},
{"s":"36","x":164,"y":289.3},{"s":"36","x":163,"y":288.5},{"s":"36","x":162,"y":289.6},{"s":"36","x":161,"y":290.2},{"s":"36","x":160,"y":289.0},{"s":"36","x":159,"y":288.4},{"s":"36","x":158,"y":289.5},{"s":"36","x":157,"y":290.1},{"s":"36","x":156,"y":289.2},{"s":"36","x":155,"y":288.3},{"s":"36","x":154,"y":289.4},{"s":"36","x":153,"y":290.3},{"s":"36","x":152,"y":289.6},{"s":"36","x":151,"y":288.7},{"s":"36","x":150,"y":289.8},{"s":"36","x":149,"y":290.4},{"s":"36","x":148,"y":289.3},{"s":"36","x":147,"y":288.8},{"s":"36","x":146,"y":289.9},{"s":"36","x":145,"y":289.1},
{"s":"36","x":144.4,"y":290.0},{"s":"36","x":143.8,"y":293.0},{"s":"36","x":143.6,"y":297.5},{"s":"36","x":143.4,"y":304.2},{"s":"36","x":143.2,"y":297.4},{"s":"36","x":143.0,"y":292.9},{"s":"36","x":142.4,"y":289.9},
{"s":"36","x":142,"y":288.9},{"s":"36","x":141,"y":289.7},{"s":"36","x":140,"y":289.1},{"s":"36","x":139,"y":292.1},{"s":"36","x":138,"y":289.4},{"s":"36","x":137,"y":290.0},{"s":"36","x":136,"y":289.1},{"s":"36","x":135,"y":288.4},{"s":"36","x":134,"y":289.5},{"s":"36","x":133,"y":290.1},{"s":"36","x":132,"y":289.0},{"s":"36","x":131,"y":288.6},{"s":"36","x":130,"y":289.7},{"s":"36","x":129,"y":290.3},{"s":"36","x":128,"y":289.2},{"s":"36","x":127,"y":288.5},{"s":"36","x":126,"y":289.4},
{"s":"36","x":125.0,"y":289.8},{"s":"36","x":124.3,"y":291.1},{"s":"36","x":123.8,"y":293.8},{"s":"36","x":123.4,"y":298.3},{"s":"36","x":123.0,"y":304.3},{"s":"36","x":122.7,"y":299.8},{"s":"36","x":122.3,"y":296.1},{"s":"36","x":121.9,"y":293.8},{"s":"36","x":121.4,"y":291.1},{"s":"36","x":120.8,"y":289.8},
{"s":"36","x":120,"y":289.0},{"s":"36","x":119,"y":290.1},{"s":"36","x":118,"y":289.3},{"s":"36","x":117,"y":288.6},{"s":"36","x":116,"y":289.7},{"s":"36","x":115,"y":290.2},{"s":"36","x":114,"y":289.2},{"s":"36","x":113,"y":288.7},{"s":"36","x":112,"y":289.5},{"s":"36","x":111,"y":290.3},{"s":"36","x":110,"y":289.4},{"s":"36","x":109,"y":288.6},{"s":"36","x":108,"y":289.6},{"s":"36","x":107,"y":290.2},{"s":"36","x":106,"y":289.1},{"s":"36","x":105,"y":288.5},{"s":"36","x":104,"y":289.7},{"s":"36","x":103,"y":290.1},{"s":"36","x":102,"y":289.0},{"s":"36","x":101,"y":288.4},{"s":"36","x":100,"y":289.4},{"s":"36","x":99,"y":290.2},{"s":"36","x":98,"y":290.6},{"s":"36","x":97,"y":291.5},{"s":"36","x":96,"y":289.6},{"s":"36","x":95,"y":288.8},{"s":"36","x":94,"y":289.9},{"s":"36","x":93,"y":289.2},{"s":"36","x":92,"y":288.4},{"s":"36","x":91,"y":289.5},{"s":"36","x":90,"y":290.1},{"s":"36","x":89,"y":289.3},{"s":"36","x":88,"y":288.7},{"s":"36","x":87,"y":289.8},{"s":"36","x":86,"y":290.3},{"s":"36","x":85,"y":289.2},{"s":"36","x":84,"y":288.6},{"s":"36","x":83,"y":289.6},{"s":"36","x":82,"y":290.2},{"s":"36","x":81,"y":289.1},{"s":"36","x":80,"y":288.5},{"s":"36","x":79,"y":289.7},{"s":"36","x":78,"y":290.4},{"s":"36","x":77,"y":289.3},{"s":"36","x":76,"y":288.7},{"s":"36","x":75,"y":289.8},{"s":"36","x":74,"y":290.5},{"s":"36","x":73,"y":289.6},{"s":"36","x":72,"y":288.9},{"s":"36","x":71,"y":290.1},
{"s":"36","x":70.0,"y":289.9},{"s":"36","x":69.4,"y":293.4},{"s":"36","x":69.2,"y":296.5},{"s":"36","x":68.85,"y":292.2},{"s":"36","x":68.5,"y":294.5},{"s":"36","x":68.3,"y":292.3},{"s":"36","x":68.0,"y":290.3},
{"s":"36","x":67,"y":289.3},{"s":"36","x":66,"y":290.1},{"s":"36","x":65,"y":289.4},
{"s":"36","x":64.2,"y":291.2},{"s":"36","x":63.7,"y":300.2},{"s":"36","x":63.5,"y":312.8},{"s":"36","x":63.3,"y":325.4},{"s":"36","x":62.9,"y":303.8},{"s":"36","x":62.5,"y":325.4},{"s":"36","x":62.3,"y":312.8},{"s":"36","x":62.1,"y":300.2},{"s":"36","x":61.6,"y":291.2},
{"s":"36","x":61,"y":289.2},{"s":"36","x":60,"y":288.6},{"s":"36","x":59,"y":289.7},{"s":"36","x":58,"y":290.2},{"s":"36","x":57,"y":289.1},{"s":"36","x":56,"y":288.5},{"s":"36","x":55,"y":289.6},{"s":"36","x":54,"y":289.0},{"s":"36","x":53,"y":289.8},{"s":"36","x":52,"y":289.3},{"s":"36","x":51,"y":288.6},{"s":"36","x":50,"y":289.4},
{"s":"36","x":199.5,"y":289.0},{"s":"36","x":198.5,"y":289.4},{"s":"36","x":197.5,"y":289.7},{"s":"36","x":196.5,"y":288.8},{"s":"36","x":195.5,"y":289.0},{"s":"36","x":194.5,"y":290.0},{"s":"36","x":193.5,"y":289.9},{"s":"36","x":192.5,"y":288.8},{"s":"36","x":191.5,"y":289.0},{"s":"36","x":190.5,"y":289.5},{"s":"36","x":189.5,"y":289.6},{"s":"36","x":188.5,"y":289.9},{"s":"36","x":187.5,"y":288.7},{"s":"36","x":186.5,"y":288.8},{"s":"36","x":185.5,"y":289.8},{"s":"36","x":184.5,"y":290.0},{"s":"36","x":183.5,"y":288.9},{"s":"36","x":182.5,"y":289.2},{"s":"36","x":181.5,"y":289.5},{"s":"36","x":180.5,"y":288.5},{"s":"36","x":179.5,"y":288.8},{"s":"36","x":178.5,"y":290.0},{"s":"36","x":177.5,"y":290.0},{"s":"36","x":176.5,"y":288.8},{"s":"36","x":175.5,"y":289.2},{"s":"36","x":174.5,"y":289.6},{"s":"36","x":173.5,"y":288.7},{"s":"36","x":172.5,"y":289.1},{"s":"36","x":171.5,"y":289.8},{"s":"36","x":170.5,"y":290.0},{"s":"36","x":169.5,"y":290.1},{"s":"36","x":168.5,"y":289.0},{"s":"36","x":164.5,"y":289.9},{"s":"36","x":163.5,"y":288.8},{"s":"36","x":162.5,"y":288.9},{"s":"36","x":161.5,"y":289.9},{"s":"36","x":160.5,"y":289.7},{"s":"36","x":159.5,"y":288.6},{"s":"36","x":158.5,"y":288.9},{"s":"36","x":157.5,"y":289.8},{"s":"36","x":156.5,"y":289.8},{"s":"36","x":155.5,"y":288.7},{"s":"36","x":154.5,"y":288.8},{"s":"36","x":153.5,"y":289.8},{"s":"36","x":152.5,"y":289.9},{"s":"36","x":151.5,"y":289.1},{"s":"36","x":150.5,"y":289.2},{"s":"36","x":149.5,"y":290.1},{"s":"36","x":148.5,"y":290.0},{"s":"36","x":147.5,"y":288.9},{"s":"36","x":146.5,"y":289.3},{"s":"36","x":145.5,"y":289.6},{"s":"36","x":141.5,"y":289.3},{"s":"36","x":140.5,"y":289.6},{"s":"36","x":139.5,"y":290.4},{"s":"36","x":138.5,"y":290.3},{"s":"36","x":137.5,"y":289.6},{"s":"36","x":136.5,"y":289.7},{"s":"36","x":135.5,"y":288.7},{"s":"36","x":134.5,"y":288.9},{"s":"36","x":133.5,"y":289.9},{"s":"36","x":132.5,"y":289.7},{"s":"36","x":131.5,"y":288.7},{"s":"36","x":130.5,"y":289.1},{"s":"36","x":129.5,"y":290.0},{"s":"36","x":128.5,"y":289.9},{"s":"36","x":127.5,"y":288.8},{"s":"36","x":126.5,"y":288.9},{"s":"36","x":125.5,"y":289.7},{"s":"36","x":120.5,"y":289.5},{"s":"36","x":119.5,"y":289.6},{"s":"36","x":118.5,"y":289.9},{"s":"36","x":117.5,"y":288.9},{"s":"36","x":116.5,"y":289.1},{"s":"36","x":115.5,"y":289.9},{"s":"36","x":114.5,"y":289.8},{"s":"36","x":113.5,"y":288.8},{"s":"36","x":112.5,"y":289.0},{"s":"36","x":111.5,"y":289.9},{"s":"36","x":110.5,"y":289.9},{"s":"36","x":109.5,"y":289.0},{"s":"36","x":108.5,"y":289.0},{"s":"36","x":107.5,"y":289.9},{"s":"36","x":106.5,"y":289.8},{"s":"36","x":105.5,"y":288.7},{"s":"36","x":104.5,"y":289.0},{"s":"36","x":103.5,"y":289.9},{"s":"36","x":102.5,"y":289.7},{"s":"36","x":101.5,"y":288.6},{"s":"36","x":100.5,"y":288.8},{"s":"36","x":99.5,"y":289.9},{"s":"36","x":98.5,"y":290.3},{"s":"36","x":97.5,"y":291.2},{"s":"36","x":96.5,"y":290.6},{"s":"36","x":95.5,"y":289.1},{"s":"36","x":94.5,"y":289.3},{"s":"36","x":93.5,"y":289.7},{"s":"36","x":92.5,"y":288.7},{"s":"36","x":91.5,"y":288.9},{"s":"36","x":90.5,"y":289.9},{"s":"36","x":89.5,"y":289.8},{"s":"36","x":88.5,"y":288.9},{"s":"36","x":87.5,"y":289.2},{"s":"36","x":86.5,"y":290.1},{"s":"36","x":85.5,"y":289.9},{"s":"36","x":84.5,"y":288.8},{"s":"36","x":83.5,"y":289.0},{"s":"36","x":82.5,"y":289.9},{"s":"36","x":81.5,"y":289.8},{"s":"36","x":80.5,"y":288.7},{"s":"36","x":79.5,"y":289.0},{"s":"36","x":78.5,"y":290.1},{"s":"36","x":77.5,"y":290.0},{"s":"36","x":76.5,"y":288.9},{"s":"36","x":75.5,"y":289.2},{"s":"36","x":74.5,"y":290.2},{"s":"36","x":73.5,"y":290.1},{"s":"36","x":72.5,"y":289.2},{"s":"36","x":71.5,"y":289.4},{"s":"36","x":70.5,"y":290.2},{"s":"36","x":67.5,"y":289.8},{"s":"36","x":66.5,"y":289.6},{"s":"36","x":65.5,"y":289.9},{"s":"36","x":64.5,"y":290.0},{"s":"36","x":60.5,"y":288.8},{"s":"36","x":59.5,"y":289.1},{"s":"36","x":58.5,"y":290.0},{"s":"36","x":57.5,"y":289.8},{"s":"36","x":56.5,"y":288.7},{"s":"36","x":55.5,"y":288.9},{"s":"36","x":54.5,"y":289.4},{"s":"36","x":53.5,"y":289.3},{"s":"36","x":52.5,"y":289.6},{"s":"36","x":51.5,"y":288.9},{"s":"36","x":50.5,"y":289.0},

{"s":"120","x":200,"y":350.4},{"s":"120","x":199,"y":349.6},{"s":"120","x":198,"y":350.8},{"s":"120","x":197,"y":350.1},{"s":"120","x":196,"y":349.4},{"s":"120","x":195,"y":350.6},{"s":"120","x":194,"y":351.0},{"s":"120","x":193,"y":350.2},{"s":"120","x":192,"y":349.5},{"s":"120","x":191,"y":350.5},{"s":"120","x":190,"y":349.8},{"s":"120","x":189,"y":350.7},{"s":"120","x":188,"y":350.2},{"s":"120","x":187,"y":349.3},{"s":"120","x":186,"y":350.3},{"s":"120","x":185,"y":351.0},{"s":"120","x":184,"y":350.4},{"s":"120","x":183,"y":349.7},{"s":"120","x":182,"y":350.6},{"s":"120","x":181,"y":349.9},{"s":"120","x":180,"y":349.2},{"s":"120","x":179,"y":350.5},{"s":"120","x":178,"y":351.1},{"s":"120","x":177,"y":350.3},{"s":"120","x":176,"y":349.7},{"s":"120","x":175,"y":350.8},{"s":"120","x":174,"y":350.0},{"s":"120","x":173,"y":349.5},{"s":"120","x":172,"y":350.9},{"s":"120","x":171,"y":350.2},{"s":"120","x":170,"y":351.2},{"s":"120","x":169,"y":350.5},{"s":"120","x":168,"y":349.8},
{"s":"120","x":167.9,"y":350.9},{"s":"120","x":167.4,"y":353.3},{"s":"120","x":167.1,"y":358.1},{"s":"120","x":166.9,"y":362.3},{"s":"120","x":166.45,"y":355.0},{"s":"120","x":166.0,"y":359.3},{"s":"120","x":165.8,"y":356.2},{"s":"120","x":165.5,"y":352.5},{"s":"120","x":165.0,"y":350.8},
{"s":"120","x":164,"y":350.2},{"s":"120","x":163,"y":349.5},{"s":"120","x":162,"y":350.4},{"s":"120","x":161,"y":350.9},{"s":"120","x":160,"y":350.0},{"s":"120","x":159,"y":349.6},{"s":"120","x":158,"y":350.3},{"s":"120","x":157,"y":350.8},{"s":"120","x":156,"y":350.1},{"s":"120","x":155,"y":349.4},{"s":"120","x":154,"y":350.2},{"s":"120","x":153,"y":351.0},{"s":"120","x":152,"y":350.4},{"s":"120","x":151,"y":349.7},{"s":"120","x":150,"y":350.9},{"s":"120","x":149,"y":352.2},{"s":"120","x":148,"y":350.6},{"s":"120","x":147,"y":349.8},{"s":"120","x":146,"y":350.6},{"s":"120","x":145,"y":350.1},
{"s":"120","x":144.4,"y":350.6},{"s":"120","x":143.8,"y":352.4},{"s":"120","x":143.6,"y":355.1},{"s":"120","x":143.4,"y":359.1},{"s":"120","x":143.2,"y":355.0},{"s":"120","x":143.0,"y":352.3},{"s":"120","x":142.4,"y":350.5},
{"s":"120","x":142,"y":349.9},{"s":"120","x":141,"y":350.7},{"s":"120","x":140,"y":350.2},{"s":"120","x":139,"y":349.6},{"s":"120","x":138,"y":350.4},{"s":"120","x":137,"y":350.9},{"s":"120","x":136,"y":350.1},{"s":"120","x":135,"y":349.5},{"s":"120","x":134,"y":350.3},{"s":"120","x":133,"y":350.8},{"s":"120","x":132,"y":350.0},{"s":"120","x":131,"y":349.7},{"s":"120","x":130,"y":350.5},{"s":"120","x":129,"y":351.0},{"s":"120","x":128,"y":350.2},{"s":"120","x":127,"y":349.6},{"s":"120","x":126,"y":350.4},
{"s":"120","x":125.0,"y":351.2},{"s":"120","x":124.3,"y":353.8},{"s":"120","x":123.8,"y":359.0},{"s":"120","x":123.4,"y":367.7},{"s":"120","x":123.0,"y":379.3},{"s":"120","x":122.7,"y":370.6},{"s":"120","x":122.3,"y":363.4},{"s":"120","x":121.9,"y":359.0},{"s":"120","x":121.4,"y":353.8},{"s":"120","x":120.8,"y":351.2},
{"s":"120","x":120,"y":350.1},{"s":"120","x":119,"y":350.9},{"s":"120","x":118,"y":350.2},{"s":"120","x":117,"y":349.6},{"s":"120","x":116,"y":350.5},{"s":"120","x":115,"y":351.0},{"s":"120","x":114,"y":350.2},{"s":"120","x":113,"y":349.7},{"s":"120","x":112,"y":350.4},{"s":"120","x":111,"y":351.1},{"s":"120","x":110,"y":350.3},{"s":"120","x":109,"y":349.6},{"s":"120","x":108,"y":350.5},{"s":"120","x":107,"y":351.0},{"s":"120","x":106,"y":350.1},{"s":"120","x":105,"y":349.5},{"s":"120","x":104,"y":350.6},{"s":"120","x":103,"y":351.0},{"s":"120","x":102,"y":350.0},{"s":"120","x":101,"y":349.4},{"s":"120","x":100,"y":350.3},{"s":"120","x":99,"y":351.0},{"s":"120","x":98,"y":350.4},{"s":"120","x":97,"y":349.8},{"s":"120","x":96,"y":350.6},{"s":"120","x":95,"y":349.9},{"s":"120","x":94,"y":350.8},{"s":"120","x":93,"y":350.2},{"s":"120","x":92,"y":349.5},{"s":"120","x":91,"y":350.4},{"s":"120","x":90,"y":350.9},{"s":"120","x":89,"y":350.2},{"s":"120","x":88,"y":349.7},{"s":"120","x":87,"y":350.7},{"s":"120","x":86,"y":351.1},{"s":"120","x":85,"y":350.2},{"s":"120","x":84,"y":349.6},{"s":"120","x":83,"y":350.5},{"s":"120","x":82,"y":351.0},{"s":"120","x":81,"y":350.1},{"s":"120","x":80,"y":349.5},{"s":"120","x":79,"y":350.6},{"s":"120","x":78,"y":351.2},{"s":"120","x":77,"y":350.3},{"s":"120","x":76,"y":349.8},{"s":"120","x":75,"y":350.7},{"s":"120","x":74,"y":351.2},{"s":"120","x":73,"y":350.5},{"s":"120","x":72,"y":349.9},{"s":"120","x":71,"y":351.0},{"s":"120","x":70,"y":350.4},{"s":"120","x":69,"y":349.8},{"s":"120","x":68,"y":350.6},{"s":"120","x":67,"y":350.1},{"s":"120","x":66,"y":350.8},{"s":"120","x":65,"y":350.2},
{"s":"120","x":64.2,"y":350.7},{"s":"120","x":63.7,"y":352.4},{"s":"120","x":63.5,"y":354.9},{"s":"120","x":63.3,"y":357.3},{"s":"120","x":62.9,"y":354.0},{"s":"120","x":62.5,"y":358.3},{"s":"120","x":62.3,"y":355.5},{"s":"120","x":62.1,"y":352.7},{"s":"120","x":61.6,"y":350.7},
{"s":"120","x":61,"y":350.1},{"s":"120","x":60,"y":349.6},{"s":"120","x":59,"y":350.5},{"s":"120","x":58,"y":351.0},{"s":"120","x":57,"y":350.2},{"s":"120","x":56,"y":349.6},{"s":"120","x":55,"y":350.4},{"s":"120","x":54,"y":349.9},{"s":"120","x":53,"y":350.6},{"s":"120","x":52,"y":350.1},{"s":"120","x":51,"y":349.6},{"s":"120","x":50,"y":350.3},
{"s":"120","x":199.5,"y":350.0},{"s":"120","x":198.5,"y":350.3},{"s":"120","x":197.5,"y":350.5},{"s":"120","x":196.5,"y":349.8},{"s":"120","x":195.5,"y":350.0},{"s":"120","x":194.5,"y":350.8},{"s":"120","x":193.5,"y":350.7},{"s":"120","x":192.5,"y":349.8},{"s":"120","x":191.5,"y":350.0},{"s":"120","x":190.5,"y":350.3},{"s":"120","x":189.5,"y":350.3},{"s":"120","x":188.5,"y":350.7},{"s":"120","x":187.5,"y":349.7},{"s":"120","x":186.5,"y":349.8},{"s":"120","x":185.5,"y":350.7},{"s":"120","x":184.5,"y":350.8},{"s":"120","x":183.5,"y":349.9},{"s":"120","x":182.5,"y":350.2},{"s":"120","x":181.5,"y":350.4},{"s":"120","x":180.5,"y":349.6},{"s":"120","x":179.5,"y":349.8},{"s":"120","x":178.5,"y":350.8},{"s":"120","x":177.5,"y":350.8},{"s":"120","x":176.5,"y":349.9},{"s":"120","x":175.5,"y":350.2},{"s":"120","x":174.5,"y":350.5},{"s":"120","x":173.5,"y":349.7},{"s":"120","x":172.5,"y":350.1},{"s":"120","x":171.5,"y":350.6},{"s":"120","x":170.5,"y":350.8},{"s":"120","x":169.5,"y":350.9},{"s":"120","x":168.5,"y":350.1},{"s":"120","x":164.5,"y":350.7},{"s":"120","x":163.5,"y":349.8},{"s":"120","x":162.5,"y":349.9},{"s":"120","x":161.5,"y":350.7},{"s":"120","x":160.5,"y":350.5},{"s":"120","x":159.5,"y":349.7},{"s":"120","x":158.5,"y":349.9},{"s":"120","x":157.5,"y":350.6},{"s":"120","x":156.5,"y":350.5},{"s":"120","x":155.5,"y":349.7},{"s":"120","x":154.5,"y":349.8},{"s":"120","x":153.5,"y":350.7},{"s":"120","x":152.5,"y":350.8},{"s":"120","x":151.5,"y":350.0},{"s":"120","x":150.5,"y":350.2},{"s":"120","x":149.5,"y":351.2},{"s":"120","x":148.5,"y":351.3},{"s":"120","x":147.5,"y":350.1},{"s":"120","x":146.5,"y":350.2},{"s":"120","x":145.5,"y":350.5},{"s":"120","x":141.5,"y":350.4},{"s":"120","x":140.5,"y":350.6},{"s":"120","x":139.5,"y":349.8},{"s":"120","x":138.5,"y":349.9},{"s":"120","x":137.5,"y":350.7},{"s":"120","x":136.5,"y":350.6},{"s":"120","x":135.5,"y":349.7},{"s":"120","x":134.5,"y":349.8},{"s":"120","x":133.5,"y":350.6},{"s":"120","x":132.5,"y":350.5},{"s":"120","x":131.5,"y":349.8},{"s":"120","x":130.5,"y":350.0},{"s":"120","x":129.5,"y":350.8},{"s":"120","x":128.5,"y":350.7},{"s":"120","x":127.5,"y":349.8},{"s":"120","x":126.5,"y":350.0},{"s":"120","x":125.5,"y":350.7},{"s":"120","x":120.5,"y":350.6},{"s":"120","x":119.5,"y":350.6},{"s":"120","x":118.5,"y":350.7},{"s":"120","x":117.5,"y":349.8},{"s":"120","x":116.5,"y":350.0},{"s":"120","x":115.5,"y":350.7},{"s":"120","x":114.5,"y":350.8},{"s":"120","x":113.5,"y":349.8},{"s":"120","x":112.5,"y":350.0},{"s":"120","x":111.5,"y":350.8},{"s":"120","x":110.5,"y":350.8},{"s":"120","x":109.5,"y":349.9},{"s":"120","x":108.5,"y":350.0},{"s":"120","x":107.5,"y":350.8},{"s":"120","x":106.5,"y":350.7},{"s":"120","x":105.5,"y":349.7},{"s":"120","x":104.5,"y":350.0},{"s":"120","x":103.5,"y":350.9},{"s":"120","x":102.5,"y":350.6},{"s":"120","x":101.5,"y":349.7},{"s":"120","x":100.5,"y":349.8},{"s":"120","x":99.5,"y":350.7},{"s":"120","x":98.5,"y":350.8},{"s":"120","x":97.5,"y":350.0},{"s":"120","x":96.5,"y":350.1},{"s":"120","x":95.5,"y":350.5},{"s":"120","x":94.5,"y":350.3},{"s":"120","x":93.5,"y":350.6},{"s":"120","x":92.5,"y":349.7},{"s":"120","x":91.5,"y":349.9},{"s":"120","x":90.5,"y":350.8},{"s":"120","x":89.5,"y":350.7},{"s":"120","x":88.5,"y":349.9},{"s":"120","x":87.5,"y":350.1},{"s":"120","x":86.5,"y":350.9},{"s":"120","x":85.5,"y":350.8},{"s":"120","x":84.5,"y":349.8},{"s":"120","x":83.5,"y":350.0},{"s":"120","x":82.5,"y":350.8},{"s":"120","x":81.5,"y":350.7},{"s":"120","x":80.5,"y":349.7},{"s":"120","x":79.5,"y":350.0},{"s":"120","x":78.5,"y":350.9},{"s":"120","x":77.5,"y":350.9},{"s":"120","x":76.5,"y":349.9},{"s":"120","x":75.5,"y":350.2},{"s":"120","x":74.5,"y":351.0},{"s":"120","x":73.5,"y":350.9},{"s":"120","x":72.5,"y":350.1},{"s":"120","x":71.5,"y":350.3},{"s":"120","x":70.5,"y":350.8},{"s":"120","x":69.5,"y":350.2},{"s":"120","x":68.5,"y":350.1},{"s":"120","x":67.5,"y":350.5},{"s":"120","x":66.5,"y":350.4},{"s":"120","x":65.5,"y":350.6},{"s":"120","x":64.5,"y":350.5},{"s":"120","x":60.5,"y":349.8},{"s":"120","x":59.5,"y":350.0},{"s":"120","x":58.5,"y":350.8},{"s":"120","x":57.5,"y":350.7},{"s":"120","x":56.5,"y":349.8},{"s":"120","x":55.5,"y":349.9},{"s":"120","x":54.5,"y":350.3},{"s":"120","x":53.5,"y":350.2},{"s":"120","x":52.5,"y":350.4},{"s":"120","x":51.5,"y":349.8},{"s":"120","x":50.5,"y":349.9},

{"s":"260","x":200,"y":413.3},{"s":"260","x":199,"y":412.6},{"s":"260","x":198,"y":413.7},{"s":"260","x":197,"y":413.0},{"s":"260","x":196,"y":412.4},{"s":"260","x":195,"y":413.5},{"s":"260","x":194,"y":413.9},{"s":"260","x":193,"y":413.1},{"s":"260","x":192,"y":412.5},{"s":"260","x":191,"y":413.4},{"s":"260","x":190,"y":412.8},{"s":"260","x":189,"y":413.6},{"s":"260","x":188,"y":413.1},{"s":"260","x":187,"y":412.3},{"s":"260","x":186,"y":413.2},{"s":"260","x":185,"y":413.9},{"s":"260","x":184,"y":413.3},{"s":"260","x":183,"y":412.7},{"s":"260","x":182,"y":413.5},{"s":"260","x":181,"y":412.9},{"s":"260","x":180,"y":412.2},{"s":"260","x":179,"y":413.4},{"s":"260","x":178,"y":414.0},{"s":"260","x":177,"y":413.2},{"s":"260","x":176,"y":412.7},{"s":"260","x":175,"y":413.7},{"s":"260","x":174,"y":413.0},{"s":"260","x":173,"y":412.5},{"s":"260","x":172,"y":413.8},{"s":"260","x":171,"y":413.2},{"s":"260","x":170,"y":414.1},{"s":"260","x":169,"y":413.4},{"s":"260","x":168,"y":412.8},
{"s":"260","x":167.9,"y":413.4},{"s":"260","x":167.4,"y":414.2},{"s":"260","x":167.1,"y":415.8},{"s":"260","x":166.9,"y":417.2},{"s":"260","x":166.45,"y":414.8},{"s":"260","x":166.0,"y":416.2},{"s":"260","x":165.8,"y":415.2},{"s":"260","x":165.5,"y":414.0},{"s":"260","x":165.0,"y":413.4},
{"s":"260","x":164,"y":413.1},{"s":"260","x":163,"y":412.5},{"s":"260","x":162,"y":413.3},{"s":"260","x":161,"y":413.8},{"s":"260","x":160,"y":413.0},{"s":"260","x":159,"y":412.6},{"s":"260","x":158,"y":413.2},{"s":"260","x":157,"y":413.7},{"s":"260","x":156,"y":413.0},{"s":"260","x":155,"y":412.4},{"s":"260","x":154,"y":413.1},{"s":"260","x":153,"y":413.9},{"s":"260","x":152,"y":413.3},{"s":"260","x":151,"y":412.7},{"s":"260","x":150,"y":413.6},{"s":"260","x":149,"y":414.6},{"s":"260","x":148,"y":413.5},{"s":"260","x":147,"y":412.8},{"s":"260","x":146,"y":413.5},{"s":"260","x":145,"y":413.0},
{"s":"260","x":144.4,"y":413.3},{"s":"260","x":143.8,"y":414.1},{"s":"260","x":143.6,"y":415.3},{"s":"260","x":143.4,"y":417.1},{"s":"260","x":143.2,"y":415.2},{"s":"260","x":143.0,"y":414.0},{"s":"260","x":142.4,"y":413.2},
{"s":"260","x":142,"y":412.9},{"s":"260","x":141,"y":413.6},{"s":"260","x":140,"y":413.1},{"s":"260","x":139,"y":412.6},{"s":"260","x":138,"y":413.3},{"s":"260","x":137,"y":413.8},{"s":"260","x":136,"y":413.0},{"s":"260","x":135,"y":412.5},{"s":"260","x":134,"y":413.2},{"s":"260","x":133,"y":413.7},{"s":"260","x":132,"y":412.9},{"s":"260","x":131,"y":412.7},{"s":"260","x":130,"y":413.4},{"s":"260","x":129,"y":413.9},{"s":"260","x":128,"y":413.1},{"s":"260","x":127,"y":412.6},{"s":"260","x":126,"y":413.3},
{"s":"260","x":125.0,"y":414.2},{"s":"260","x":124.3,"y":417.3},{"s":"260","x":123.8,"y":423.4},{"s":"260","x":123.4,"y":433.6},{"s":"260","x":123.0,"y":447.2},{"s":"260","x":122.7,"y":437.0},{"s":"260","x":122.3,"y":428.5},{"s":"260","x":121.9,"y":423.4},{"s":"260","x":121.4,"y":417.3},{"s":"260","x":120.8,"y":414.2},
{"s":"260","x":120,"y":413.0},{"s":"260","x":119,"y":413.8},{"s":"260","x":118,"y":413.2},{"s":"260","x":117,"y":412.6},{"s":"260","x":116,"y":413.4},{"s":"260","x":115,"y":413.9},{"s":"260","x":114,"y":413.1},{"s":"260","x":113,"y":412.6},{"s":"260","x":112,"y":413.3},{"s":"260","x":111,"y":413.9},{"s":"260","x":110,"y":413.1},{"s":"260","x":109,"y":412.5},{"s":"260","x":108,"y":413.4},{"s":"260","x":107,"y":413.8},{"s":"260","x":106,"y":413.0},{"s":"260","x":105,"y":412.4},{"s":"260","x":104,"y":413.4},{"s":"260","x":103,"y":413.9},{"s":"260","x":102,"y":412.9},{"s":"260","x":101,"y":412.4},{"s":"260","x":100,"y":413.2},{"s":"260","x":99,"y":413.8},{"s":"260","x":98,"y":413.2},{"s":"260","x":97,"y":412.7},{"s":"260","x":96,"y":413.5},{"s":"260","x":95,"y":412.8},{"s":"260","x":94,"y":413.6},{"s":"260","x":93,"y":413.1},{"s":"260","x":92,"y":412.5},{"s":"260","x":91,"y":413.3},{"s":"260","x":90,"y":413.8},{"s":"260","x":89,"y":413.4},{"s":"260","x":88,"y":414.5},{"s":"260","x":87,"y":413.6},{"s":"260","x":86,"y":413.9},{"s":"260","x":85,"y":413.0},{"s":"260","x":84,"y":412.5},{"s":"260","x":83,"y":413.4},{"s":"260","x":82,"y":413.8},{"s":"260","x":81,"y":413.0},{"s":"260","x":80,"y":412.5},{"s":"260","x":79,"y":413.4},{"s":"260","x":78,"y":414.0},{"s":"260","x":77,"y":413.2},{"s":"260","x":76,"y":412.7},{"s":"260","x":75,"y":413.5},{"s":"260","x":74,"y":414.0},{"s":"260","x":73,"y":413.4},{"s":"260","x":72,"y":412.8},{"s":"260","x":71,"y":413.8},{"s":"260","x":70,"y":413.3},{"s":"260","x":69,"y":412.7},{"s":"260","x":68,"y":413.4},{"s":"260","x":67,"y":413.0},{"s":"260","x":66,"y":413.6},{"s":"260","x":65,"y":413.1},
{"s":"260","x":64.2,"y":413.4},{"s":"260","x":63.7,"y":414.1},{"s":"260","x":63.5,"y":415.2},{"s":"260","x":63.3,"y":416.2},{"s":"260","x":62.9,"y":414.6},{"s":"260","x":62.5,"y":415.7},{"s":"260","x":62.3,"y":414.8},{"s":"260","x":62.1,"y":414.0},{"s":"260","x":61.6,"y":413.3},
{"s":"260","x":61,"y":413.0},{"s":"260","x":60,"y":412.5},{"s":"260","x":59,"y":413.3},{"s":"260","x":58,"y":413.8},{"s":"260","x":57,"y":413.1},{"s":"260","x":56,"y":412.6},{"s":"260","x":55,"y":413.3},{"s":"260","x":54,"y":412.8},{"s":"260","x":53,"y":413.5},{"s":"260","x":52,"y":413.0},{"s":"260","x":51,"y":412.6},{"s":"260","x":50,"y":413.2},
{"s":"260","x":199.5,"y":413.0},{"s":"260","x":198.5,"y":413.2},{"s":"260","x":197.5,"y":413.4},{"s":"260","x":196.5,"y":412.7},{"s":"260","x":195.5,"y":412.9},{"s":"260","x":194.5,"y":413.7},{"s":"260","x":193.5,"y":413.6},{"s":"260","x":192.5,"y":412.7},{"s":"260","x":191.5,"y":412.9},{"s":"260","x":190.5,"y":413.2},{"s":"260","x":189.5,"y":413.3},{"s":"260","x":188.5,"y":413.6},{"s":"260","x":187.5,"y":412.6},{"s":"260","x":186.5,"y":412.7},{"s":"260","x":185.5,"y":413.6},{"s":"260","x":184.5,"y":413.7},{"s":"260","x":183.5,"y":412.8},{"s":"260","x":182.5,"y":413.1},{"s":"260","x":181.5,"y":413.3},{"s":"260","x":180.5,"y":412.5},{"s":"260","x":179.5,"y":412.7},{"s":"260","x":178.5,"y":413.7},{"s":"260","x":177.5,"y":413.7},{"s":"260","x":176.5,"y":412.8},{"s":"260","x":175.5,"y":413.1},{"s":"260","x":174.5,"y":413.4},{"s":"260","x":173.5,"y":412.6},{"s":"260","x":172.5,"y":413.0},{"s":"260","x":171.5,"y":413.5},{"s":"260","x":170.5,"y":413.7},{"s":"260","x":169.5,"y":413.8},{"s":"260","x":168.5,"y":413.0},{"s":"260","x":164.5,"y":413.6},{"s":"260","x":163.5,"y":412.7},{"s":"260","x":162.5,"y":412.8},{"s":"260","x":161.5,"y":413.6},{"s":"260","x":160.5,"y":413.4},{"s":"260","x":159.5,"y":412.6},{"s":"260","x":158.5,"y":412.8},{"s":"260","x":157.5,"y":413.5},{"s":"260","x":156.5,"y":413.4},{"s":"260","x":155.5,"y":412.6},{"s":"260","x":154.5,"y":412.7},{"s":"260","x":153.5,"y":413.6},{"s":"260","x":152.5,"y":413.7},{"s":"260","x":151.5,"y":412.9},{"s":"260","x":150.5,"y":413.0},{"s":"260","x":149.5,"y":414.0},{"s":"260","x":148.5,"y":414.0},{"s":"260","x":147.5,"y":413.0},{"s":"260","x":146.5,"y":413.1},{"s":"260","x":145.5,"y":413.4},{"s":"260","x":141.5,"y":413.3},{"s":"260","x":140.5,"y":413.5},{"s":"260","x":139.5,"y":412.7},{"s":"260","x":138.5,"y":412.8},{"s":"260","x":137.5,"y":413.6},{"s":"260","x":136.5,"y":413.5},{"s":"260","x":135.5,"y":412.6},{"s":"260","x":134.5,"y":412.7},{"s":"260","x":133.5,"y":413.5},{"s":"260","x":132.5,"y":413.4},{"s":"260","x":131.5,"y":412.7},{"s":"260","x":130.5,"y":412.9},{"s":"260","x":129.5,"y":413.7},{"s":"260","x":128.5,"y":413.6},{"s":"260","x":127.5,"y":412.7},{"s":"260","x":126.5,"y":412.9},{"s":"260","x":125.5,"y":413.6},{"s":"260","x":120.5,"y":413.5},{"s":"260","x":119.5,"y":413.5},{"s":"260","x":118.5,"y":413.6},{"s":"260","x":117.5,"y":412.7},{"s":"260","x":116.5,"y":412.9},{"s":"260","x":115.5,"y":413.6},{"s":"260","x":114.5,"y":413.7},{"s":"260","x":113.5,"y":412.7},{"s":"260","x":112.5,"y":412.9},{"s":"260","x":111.5,"y":413.7},{"s":"260","x":110.5,"y":413.6},{"s":"260","x":109.5,"y":412.7},{"s":"260","x":108.5,"y":412.9},{"s":"260","x":107.5,"y":413.7},{"s":"260","x":106.5,"y":413.6},{"s":"260","x":105.5,"y":412.6},{"s":"260","x":104.5,"y":412.9},{"s":"260","x":103.5,"y":413.8},{"s":"260","x":102.5,"y":413.5},{"s":"260","x":101.5,"y":412.6},{"s":"260","x":100.5,"y":412.7},{"s":"260","x":99.5,"y":413.6},{"s":"260","x":98.5,"y":413.6},{"s":"260","x":97.5,"y":412.9},{"s":"260","x":96.5,"y":413.0},{"s":"260","x":95.5,"y":413.4},{"s":"260","x":94.5,"y":413.2},{"s":"260","x":93.5,"y":413.5},{"s":"260","x":92.5,"y":412.6},{"s":"260","x":91.5,"y":412.8},{"s":"260","x":90.5,"y":413.7},{"s":"260","x":89.5,"y":413.9},{"s":"260","x":88.5,"y":414.2},{"s":"260","x":87.5,"y":413.9},{"s":"260","x":86.5,"y":413.6},{"s":"260","x":85.5,"y":413.5},{"s":"260","x":84.5,"y":412.7},{"s":"260","x":83.5,"y":412.9},{"s":"260","x":82.5,"y":413.7},{"s":"260","x":81.5,"y":413.6},{"s":"260","x":80.5,"y":412.6},{"s":"260","x":79.5,"y":412.9},{"s":"260","x":78.5,"y":413.8},{"s":"260","x":77.5,"y":413.8},{"s":"260","x":76.5,"y":412.8},{"s":"260","x":75.5,"y":413.1},{"s":"260","x":74.5,"y":413.9},{"s":"260","x":73.5,"y":413.8},{"s":"260","x":72.5,"y":413.0},{"s":"260","x":71.5,"y":413.2},{"s":"260","x":70.5,"y":413.7},{"s":"260","x":69.5,"y":413.1},{"s":"260","x":68.5,"y":413.0},{"s":"260","x":67.5,"y":413.4},{"s":"260","x":66.5,"y":413.3},{"s":"260","x":65.5,"y":413.5},{"s":"260","x":64.5,"y":413.4},{"s":"260","x":60.5,"y":412.7},{"s":"260","x":59.5,"y":412.9},{"s":"260","x":58.5,"y":413.7},{"s":"260","x":57.5,"y":413.6},{"s":"260","x":56.5,"y":412.7},{"s":"260","x":55.5,"y":412.8},{"s":"260","x":54.5,"y":413.2},{"s":"260","x":53.5,"y":413.1},{"s":"260","x":52.5,"y":413.3},{"s":"260","x":51.5,"y":412.7},{"s":"260","x":50.5,"y":412.8}
]
},
"layer": [
{
"data": {"name": "frame"},
"mark": {"type": "rule", "stroke": "#333333", "strokeWidth": 1.5},
"encoding": {
"x": {"field": "x1", "type": "quantitative", "scale": {"domain": [50, 200], "reverse": true, "nice": false, "zero": false},
"axis": {"orient": "bottom", "values": [190, 180, 170, 160, 140, 130, 120, 110, 90, 80, 70, 60], "tickSize": 3.5, "tickWidth": 1.3, "tickColor": "black", "domain": false, "labels": false, "title": null, "grid": false}},
"x2": {"field": "x2"},
"y": {"field": "y1", "type": "quantitative", "scale": {"domain": [0, 485], "nice": false, "zero": false}, "axis": null},
"y2": {"field": "y2"}
}
},
{
"data": {"name": "spectra"},
"mark": {"type": "line", "color": "black", "strokeWidth": 1},
"encoding": {
"x": {"field": "x", "type": "quantitative",
"axis": {"orient": "bottom", "values": [200, 150, 100, 50], "format": "d", "tickSize": 6, "tickWidth": 1.3, "tickColor": "black", "domainColor": "black", "domainWidth": 2.5, "grid": false,
"labelFont": "Liberation Serif", "labelFontSize": 25, "labelFontWeight": "bold", "labelColor": "black", "labelBaseline": "alphabetic", "labelPadding": 25, "labelOffset": 4, "labelFlush": false, "labelOverlap": false,
"title": "PPM from TMS", "titleFont": "Liberation Serif", "titleFontSize": 25, "titleFontWeight": "bold", "titleColor": "black", "titleBaseline": "alphabetic", "titleY": 58}},
"y": {"field": "y", "type": "quantitative", "axis": null},
"detail": {"field": "s", "type": "nominal"}
}
},
{
"data": {"name": "numbers"},
"mark": {"type": "text", "align": "right", "baseline": "alphabetic", "dx": 1, "font": "Liberation Serif", "fontWeight": "bold", "fontSize": 25, "color": "black"},
"encoding": {
"x": {"field": "x", "type": "quantitative", "axis": null},
"y": {"field": "y", "type": "quantitative", "axis": null},
"text": {"field": "label"}
}
},
{
"data": {"name": "centered"},
"mark": {"type": "text", "align": "center", "baseline": "alphabetic", "font": "Liberation Serif", "fontWeight": "bold", "fontSize": 25, "color": "black"},
"encoding": {
"x": {"field": "x", "type": "quantitative", "axis": null},
"y": {"field": "y", "type": "quantitative", "axis": null},
"text": {"field": "label"}
}
},
{
"data": {"name": "leftmain"},
"mark": {"type": "text", "align": "left", "baseline": "alphabetic", "font": "Liberation Serif", "fontWeight": "bold", "fontSize": 25, "color": "black"},
"encoding": {
"x": {"field": "x", "type": "quantitative", "axis": null},
"y": {"field": "y", "type": "quantitative", "axis": null},
"text": {"field": "label"}
}
},
{
"data": {"name": "subs"},
"mark": {"type": "text", "align": "left", "baseline": "alphabetic", "font": "Liberation Serif", "fontWeight": "bold", "fontSize": 24, "color": "black"},
"encoding": {
"x": {"field": "x", "type": "quantitative", "axis": null},
"y": {"field": "y", "type": "quantitative", "axis": null},
"text": {"field": "label"}
}
}
],
"resolve": {"axis": {"x": "independent"}}
}
